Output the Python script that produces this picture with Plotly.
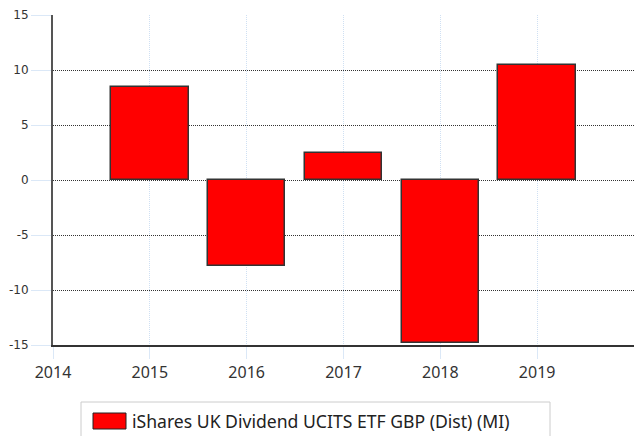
import plotly.graph_objects as go

years = [2015, 2016, 2017, 2018, 2019]
returns = [8.45, -7.8, 2.45, -14.8, 10.45]
series_name = "iShares UK Dividend UCITS ETF GBP (Dist) (MI)"
x_ticks = [2014, 2015, 2016, 2017, 2018, 2019]
y_ticks = [-15, -10, -5, 0, 5, 10, 15]
y_labels = ["-15", "-10", "-5", "0", "5", "10", "15"]

fig = go.Figure()
fig.add_trace(go.Bar(
    x=years, y=returns, width=0.8, name=series_name,
    marker=dict(color="#ff0000", line=dict(color="#333333", width=1.5)),
    showlegend=False,
))

L, R, T, B = 53, 2, 15, 91
W, H = 636, 436
pw, ph = W - L - R, H - T - B

def px(x):
    return (x - L) / pw

def py(y):
    return (H - B - y) / ph

fig.update_layout(
    width=W, height=H,
    margin=dict(l=L, r=R, t=T, b=B, autoexpand=False),
    plot_bgcolor="white", paper_bgcolor="white",
    bargap=0,
    xaxis=dict(
        range=[2014, 2020], tickvals=x_ticks, ticktext=[str(v) for v in x_ticks],
        showgrid=True, gridcolor="#cfe0f3", griddash="1px,1px", gridwidth=1,
        ticks="outside", ticklen=12, tickcolor="#dbe8f7",
        showline=True, linecolor="#333333", linewidth=1.5,
        zeroline=False, automargin=False,
        tickfont=dict(family="Noto Sans", size=16, color="#333333"),
    ),
    yaxis=dict(
        range=[-15, 15], tickvals=y_ticks, ticktext=y_labels,
        showgrid=True, gridcolor="#333333", griddash="1px,1px", gridwidth=1,
        ticks="outside", ticklen=20, tickcolor="#dbe8f7",
        showline=True, linecolor="#555555", linewidth=2,
        zeroline=False, automargin=False,
        tickfont=dict(family="DejaVu Sans", size=12, color="#333333"),
    ),
    shapes=[
        dict(type="rect", xref="paper", yref="paper",
             x0=px(81), x1=px(550), y0=py(445), y1=py(402),
             line=dict(color="#cccccc", width=1), fillcolor="white", layer="above"),
        dict(type="rect", xref="paper", yref="paper",
             x0=px(93), x1=px(126), y0=py(429), y1=py(413),
             line=dict(color="#222222", width=1), fillcolor="#ff0000", layer="above"),
    ],
    annotations=[
        dict(text=series_name, xref="paper", yref="paper",
             x=px(130), y=py(421), xanchor="left", yanchor="middle",
             showarrow=False,
             font=dict(family="Noto Sans", size=17.6, color="#222222")),
    ],
)

fig.write_html("out.html", config={"displayModeBar": False},
               post_script="document.body.style.margin='0';document.body.style.overflow='hidden';")
